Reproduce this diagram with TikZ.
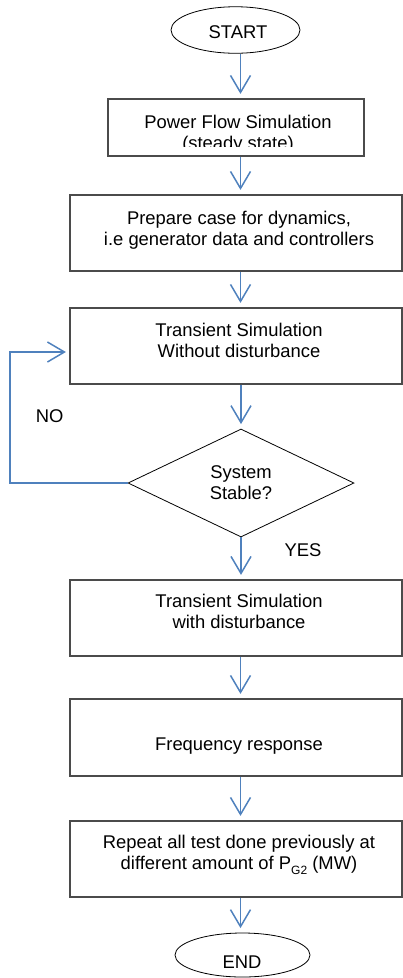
\documentclass[tikz,border=0pt]{standalone}
\usepackage{fontspec}
\setmainfont{Liberation Sans}
\usetikzlibrary{shapes.geometric,arrows.meta}
\definecolor{flowblue}{RGB}{79,129,189}
\definecolor{boxgray}{RGB}{75,75,75}
\begin{document}
\begin{tikzpicture}[x=1pt,y=-1pt,
  every node/.style={font=\fontsize{18.4}{21}\selectfont},
  box/.style={draw=boxgray,line width=1.2pt,inner sep=0pt,rectangle},
  term/.style={draw=black,ellipse,line width=0.8pt,inner sep=0pt},
  dec/.style={draw=black,diamond,line width=0.8pt,inner sep=0pt},
  txt/.style={align=center,inner sep=0pt},
  flow/.style={draw=flowblue,line width=1.5pt,
    -{Straight Barb[length=17pt,width=20pt,line width=1.5pt]},shorten >=4.5pt}
]
\useasboundingbox (0,0) rectangle (403,978);
\coordinate (ax) at (240.5,0);
\coordinate (lp) at (10,0);

% terminals
\node[term,minimum width=129pt,minimum height=46.5pt] (start) at (235.5,30) {};
\node[txt,anchor=base] (starttxt) at (238,38) {START};
\node[term,minimum width=135pt,minimum height=44pt] (end) at (242.5,955) {};
\node[txt,anchor=base] (endtxt) at (242,968) {END};

% boxes
\node[box,minimum width=256pt,minimum height=57pt] (b1) at (236,127.5) {};
\begin{scope}
  \clip (100,99) rectangle (370,146);
  \node[txt] (b1txt) at (238,133.75) {Power Flow Simulation\\(steady state)};
\end{scope}

\node[box,minimum width=332pt,minimum height=76pt] (b2) at (236,233) {};
\node[txt] (b2txt) at (239,229.75) {Prepare case for dynamics,\\i.e generator data and controllers};

\node[box,minimum width=332pt,minimum height=76pt] (b3) at (236,346) {};
\node[txt] (b3txt) at (239,340.5) {Transient Simulation\\Without disturbance};

\node[dec,minimum width=226pt,minimum height=108pt,aspect=2.09] (dia) at (241,483) {};
\node[txt] (diatxt) at (241,482.8) {System\\Stable?};

\node[box,minimum width=332pt,minimum height=76pt] (b4) at (236,618) {};
\node[txt] (b4txt) at (239,611.8) {Transient Simulation\\with disturbance};

\node[box,minimum width=332pt,minimum height=77pt] (b5) at (236,737.5) {};
\node[txt,anchor=base] (b5txt) at (239,750) {Frequency response};

\node[box,minimum width=332pt,minimum height=76pt] (b6) at (236,859) {};
\node[txt] (b6txt) at (239,854.75) {Repeat all test done previously at\\different amount of P\raisebox{-0.28em}{\fontsize{12}{12}\selectfont G2} (MW)};

% labels
\node[txt,anchor=base] (no) at (49.6,422) {NO};
\node[txt,anchor=base] (yes) at (303,556) {YES};

% connectors
\draw[flow] (start.south -| ax) -- (b1.north -| ax);
\draw[flow] (b1.south -| ax) -- (b2.north -| ax);
\draw[flow] (b2.south -| ax) -- (b3.north -| ax);
\draw[flow] (b3.south -| dia.north) -- (dia.north);
\draw[flow] (dia.south) -- (b4.north -| dia.south);
\draw[flow] (b4.south -| ax) -- (b5.north -| ax);
\draw[flow] (b5.south -| ax) -- (b6.north -| ax);
\draw[flow] (b6.south -| ax) -- (end.north -| ax);
\draw[flow,shorten >=3.5pt] (dia.west) -- (dia.west -| lp) |- ([yshift=-6pt]b3.west);
\end{tikzpicture}
\end{document}
